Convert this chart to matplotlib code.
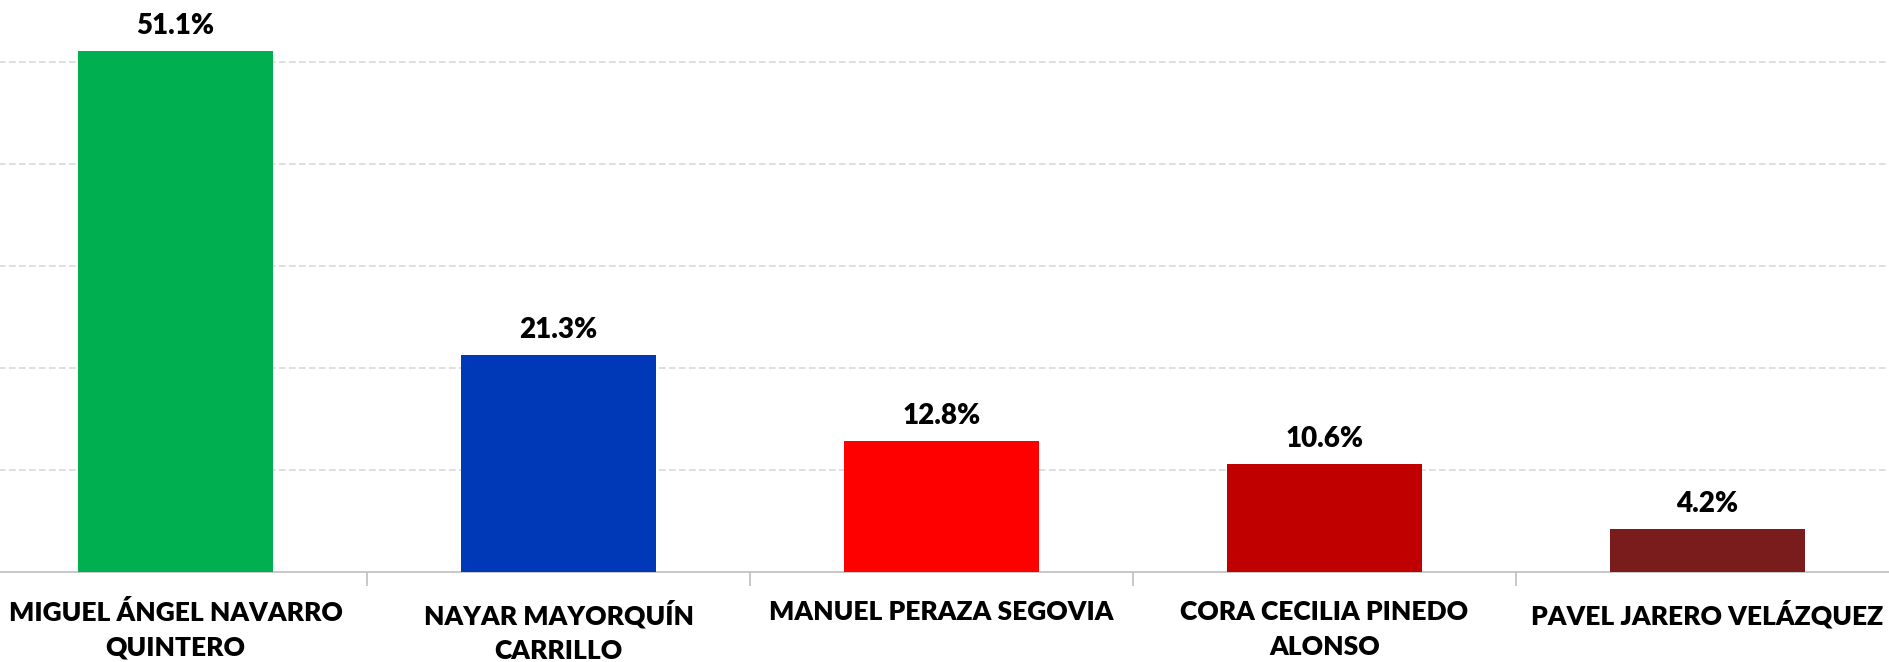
import matplotlib.pyplot as plt
import numpy as np

plt.rcParams['font.family'] = ['Lato', 'DejaVu Sans']

candidatos = ['MIGUEL ÁNGEL NAVARRO\nQUINTERO', 'NAYAR MAYORQUÍN\nCARRILLO',
              'MANUEL PERAZA SEGOVIA', 'CORA CECILIA PINEDO\nALONSO',
              'PAVEL JARERO VELÁZQUEZ']
votos = [51.1, 21.3, 12.8, 10.6, 4.2]
colores = ['#00b050', '#0039b8', '#ff0000', '#c00000', '#7b1c1c']

fig = plt.figure(figsize=(18.89, 6.62), dpi=100)
# plot area runs a bit past the figure edges, like the original
ax = fig.add_axes([-16 / 1889, 90 / 662, 1915 / 1889, 572 / 662])

x = np.arange(len(votos))
bars = ax.bar(x, votos, width=0.507, color=colores, zorder=3)

for b, v in zip(bars, votos):
    ax.text(b.get_x() + b.get_width() / 2, v + 1.2, '%.1f%%' % v,
            ha='center', va='bottom', fontsize=20, fontweight='heavy')

ax.set_xlim(-0.5, len(votos) - 0.5)
ax.set_ylim(0, 56.1)
ax.set_yticks([10, 20, 30, 40, 50])
ax.yaxis.grid(True, linestyle=(0, (4, 2)), color='#d9d9d9', linewidth=1.2, zorder=0)
ax.tick_params(axis='y', left=False, labelleft=False)

ax.set_xticks(x)
ax.set_xticklabels(candidatos, fontsize=19, fontweight='heavy', linespacing=1.55)
ax.tick_params(axis='x', length=0, pad=20)
ax.set_xticks(np.arange(0.5, len(votos) - 0.5), minor=True)
ax.tick_params(axis='x', which='minor', length=10, color='#bfbfbf', width=1.2)

for s in ['top', 'right', 'left']:
    ax.spines[s].set_visible(False)
ax.spines['bottom'].set_color('#bfbfbf')
ax.spines['bottom'].set_linewidth(1.2)

fig.savefig('out.png', dpi=100)
